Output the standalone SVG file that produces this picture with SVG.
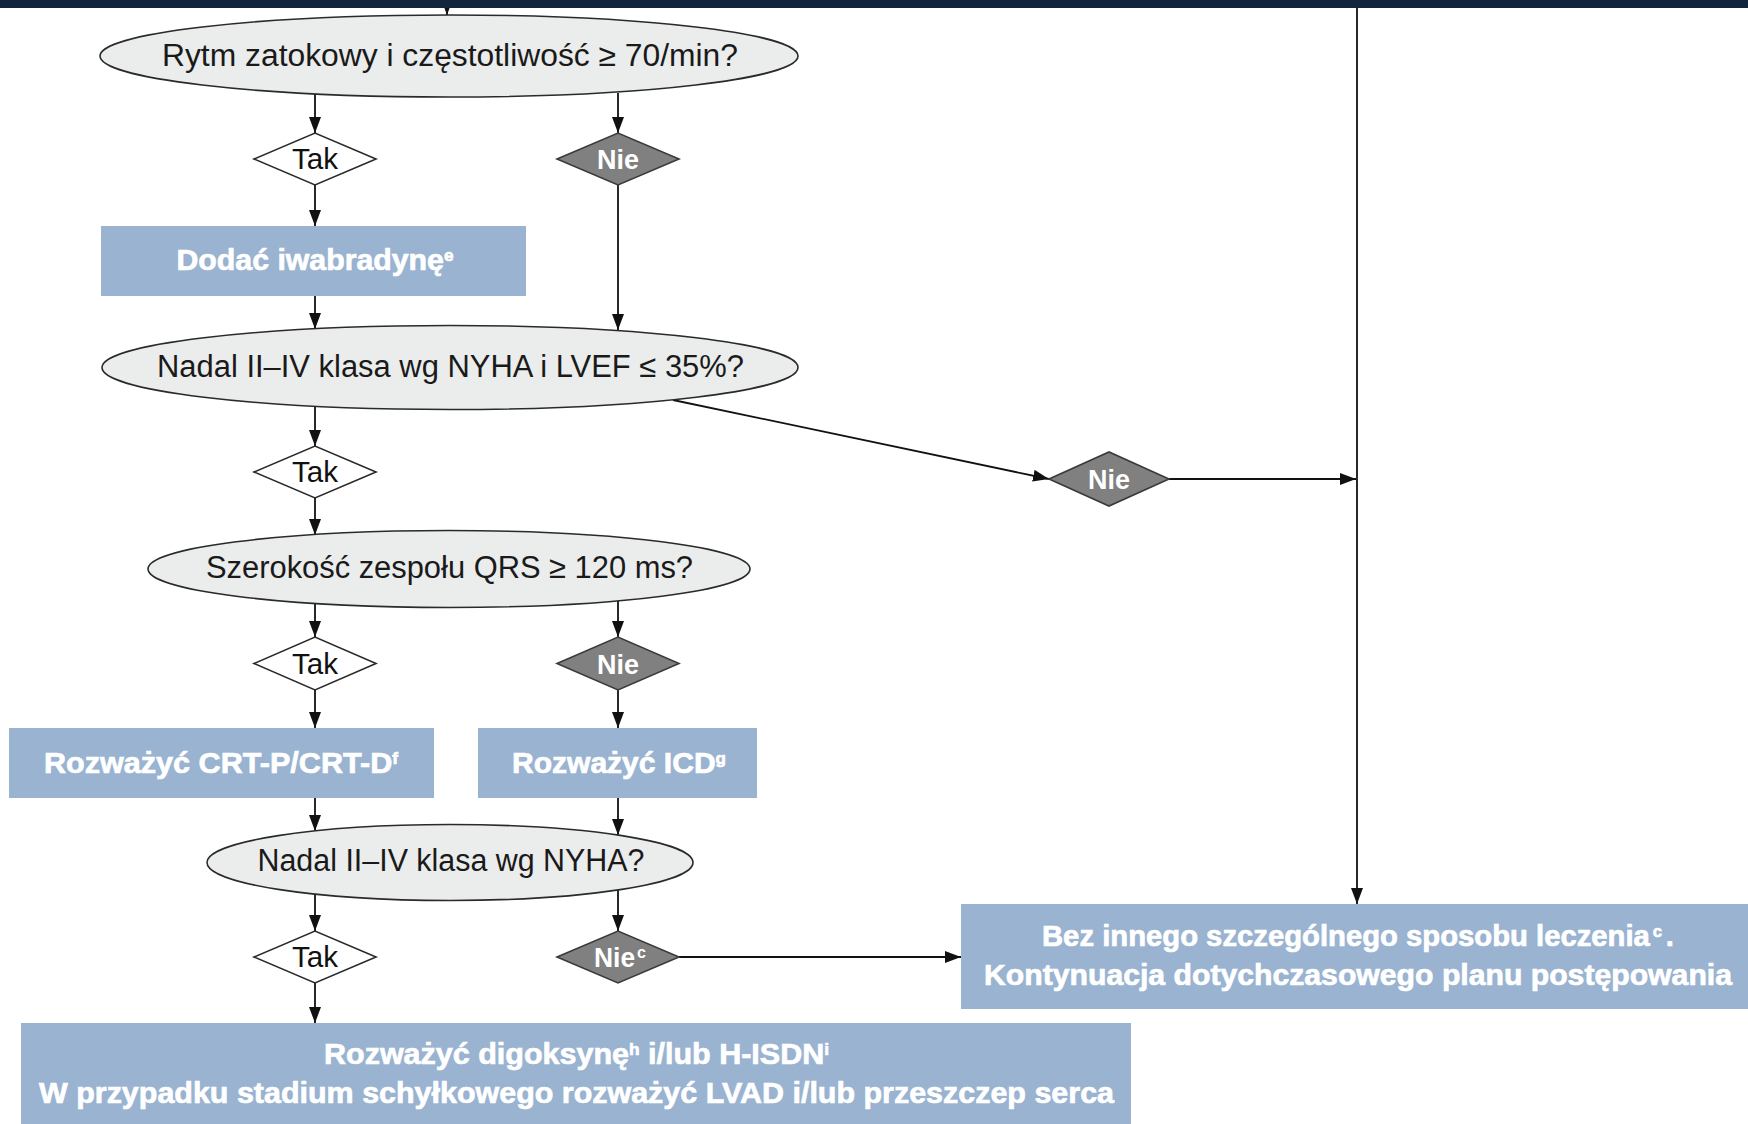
<svg xmlns="http://www.w3.org/2000/svg" width="1748" height="1124" viewBox="0 0 1748 1124">
<style>
.bg{fill:#ffffff}
.ell{fill:#ebecec;stroke:#2a2a2a;stroke-width:1.6}
.tak{fill:#ffffff;stroke:#2a2a2a;stroke-width:1.6}
.nie{fill:#808080;stroke:#3a3a3a;stroke-width:1.6}
.box{fill:#99b3d1}
.q{font-family:"Liberation Sans",Arial,sans-serif;font-size:31px;fill:#1a1a1a;text-anchor:middle}
.t{font-family:"Liberation Sans",Arial,sans-serif;font-size:29px;fill:#111;text-anchor:middle}
.n{font-family:"Liberation Sans",Arial,sans-serif;font-size:28px;font-weight:bold;fill:#fff;text-anchor:middle}
.w{font-family:"Liberation Sans",Arial,sans-serif;font-size:30px;font-weight:bold;fill:#fff;stroke:#fff;stroke-width:0.7;text-anchor:middle}
.sup{font-size:17px}
.c{fill:none;stroke:#111;stroke-width:1.8}
</style>
<defs>
<marker id="ah" markerUnits="userSpaceOnUse" markerWidth="16" markerHeight="12" refX="16" refY="6" orient="auto">
<path d="M0,0 L16,6 L0,12 z" fill="#111"/>
</marker>
</defs>
<rect class="bg" x="0" y="0" width="1748" height="1124"/>

<g id="connectors">
<path class="c" d="M447,0 V15" marker-end="url(#ah)"/>
<path class="c" d="M315,94 V133" marker-end="url(#ah)"/>
<path class="c" d="M618,93 V133" marker-end="url(#ah)"/>
<path class="c" d="M315,185 V226" marker-end="url(#ah)"/>
<path class="c" d="M618,185 V330" marker-end="url(#ah)"/>
<path class="c" d="M315,296 V329" marker-end="url(#ah)"/>
<path class="c" d="M315,406 V446" marker-end="url(#ah)"/>
<path class="c" d="M673,400 L1049,479" marker-end="url(#ah)"/>
<path class="c" d="M1168,479 H1356" marker-end="url(#ah)"/>
<path class="c" d="M1357,0 V904" marker-end="url(#ah)"/>
<path class="c" d="M315,498 V535" marker-end="url(#ah)"/>
<path class="c" d="M315,603 V637" marker-end="url(#ah)"/>
<path class="c" d="M618,601 V637" marker-end="url(#ah)"/>
<path class="c" d="M315,690 V728" marker-end="url(#ah)"/>
<path class="c" d="M618,690 V728" marker-end="url(#ah)"/>
<path class="c" d="M315,798 V831" marker-end="url(#ah)"/>
<path class="c" d="M618,798 V835" marker-end="url(#ah)"/>
<path class="c" d="M315,894 V931" marker-end="url(#ah)"/>
<path class="c" d="M618,890 V931" marker-end="url(#ah)"/>
<path class="c" d="M315,983 V1023" marker-end="url(#ah)"/>
<path class="c" d="M678,957 H961" marker-end="url(#ah)"/>
</g>

<rect x="0" y="0" width="1748" height="8" fill="#13243f"/>

<g id="q1">
<ellipse class="ell" cx="449" cy="56" rx="349" ry="41"/>
<text class="q" x="450" y="66" textLength="576" lengthAdjust="spacingAndGlyphs">Rytm zatokowy i częstotliwość ≥ 70/min?</text>
</g>
<g id="tak1">
<polygon class="tak" points="254,159 315,133 376,159 315,185"/>
<text class="t" x="315" y="169" textLength="46" lengthAdjust="spacingAndGlyphs">Tak</text>
</g>
<g id="nie1">
<polygon class="nie" points="557,159 618,133 679,159 618,185"/>
<text class="n" x="618" y="169" textLength="42" lengthAdjust="spacingAndGlyphs">Nie</text>
</g>
<g id="ivabradine">
<rect class="box" x="101" y="226" width="425" height="70"/>
<text class="w" x="315" y="270" textLength="277" lengthAdjust="spacingAndGlyphs">Dodać iwabradynę<tspan class="sup" baseline-shift="super">e</tspan></text>
</g>
<g id="q2">
<ellipse class="ell" cx="450" cy="367.5" rx="348" ry="42"/>
<text class="q" x="450.5" y="377" textLength="587" lengthAdjust="spacingAndGlyphs">Nadal II–IV klasa wg NYHA i LVEF ≤ 35%?</text>
</g>
<g id="tak2">
<polygon class="tak" points="254,472 315,446 376,472 315,498"/>
<text class="t" x="315" y="482" textLength="46" lengthAdjust="spacingAndGlyphs">Tak</text>
</g>
<g id="nie2">
<polygon class="nie" points="1049,479 1109,452 1169,479 1109,506"/>
<text class="n" x="1109" y="489" textLength="42" lengthAdjust="spacingAndGlyphs">Nie</text>
</g>
<g id="q3">
<ellipse class="ell" cx="449" cy="569" rx="301" ry="38.5"/>
<text class="q" x="449.5" y="578" textLength="487" lengthAdjust="spacingAndGlyphs">Szerokość zespołu QRS ≥ 120 ms?</text>
</g>
<g id="tak3">
<polygon class="tak" points="254,663.5 315,637 376,663.5 315,690"/>
<text class="t" x="315" y="673.5" textLength="46" lengthAdjust="spacingAndGlyphs">Tak</text>
</g>
<g id="nie3">
<polygon class="nie" points="557,663.5 618,637 679,663.5 618,690"/>
<text class="n" x="618" y="673.5" textLength="42" lengthAdjust="spacingAndGlyphs">Nie</text>
</g>
<g id="crt">
<rect class="box" x="9" y="728" width="425" height="70"/>
<text class="w" x="221" y="773" textLength="354" lengthAdjust="spacingAndGlyphs">Rozważyć CRT-P/CRT-D<tspan class="sup" baseline-shift="super">f</tspan></text>
</g>
<g id="icd">
<rect class="box" x="478" y="728" width="279" height="70"/>
<text class="w" x="619" y="773" textLength="214" lengthAdjust="spacingAndGlyphs">Rozważyć ICD<tspan class="sup" baseline-shift="super">g</tspan></text>
</g>
<g id="q4">
<ellipse class="ell" cx="450" cy="862.5" rx="243" ry="38"/>
<text class="q" x="451" y="871" textLength="387" lengthAdjust="spacingAndGlyphs">Nadal II–IV klasa wg NYHA?</text>
</g>
<g id="tak4">
<polygon class="tak" points="254,957 315,931 376,957 315,983"/>
<text class="t" x="315" y="967" textLength="46" lengthAdjust="spacingAndGlyphs">Tak</text>
</g>
<g id="nie4">
<polygon class="nie" points="557,957 618,931 679,957 618,983"/>
<text class="n" x="620" y="967" textLength="52" lengthAdjust="spacingAndGlyphs">Nie<tspan class="sup" dx="2" baseline-shift="super">c</tspan></text>
</g>
<g id="no-treatment">
<rect class="box" x="961" y="904" width="787" height="105"/>
<text class="w" x="1358" y="946" textLength="632" lengthAdjust="spacingAndGlyphs">Bez innego szczególnego sposobu leczenia<tspan class="sup" dx="3" baseline-shift="super">c</tspan><tspan dx="4">.</tspan></text>
<text class="w" x="1358" y="985" textLength="748" lengthAdjust="spacingAndGlyphs">Kontynuacja dotychczasowego planu postępowania</text>
</g>
<g id="digoxin">
<rect class="box" x="21" y="1023" width="1110" height="110"/>
<text class="w" x="576.5" y="1064" textLength="505" lengthAdjust="spacingAndGlyphs">Rozważyć digoksynę<tspan class="sup" baseline-shift="super">h</tspan> i/lub H-ISDN<tspan class="sup" baseline-shift="super">i</tspan></text>
<text class="w" x="576.5" y="1103" textLength="1075" lengthAdjust="spacingAndGlyphs">W przypadku stadium schyłkowego rozważyć LVAD i/lub przeszczep serca</text>
</g>
</svg>
